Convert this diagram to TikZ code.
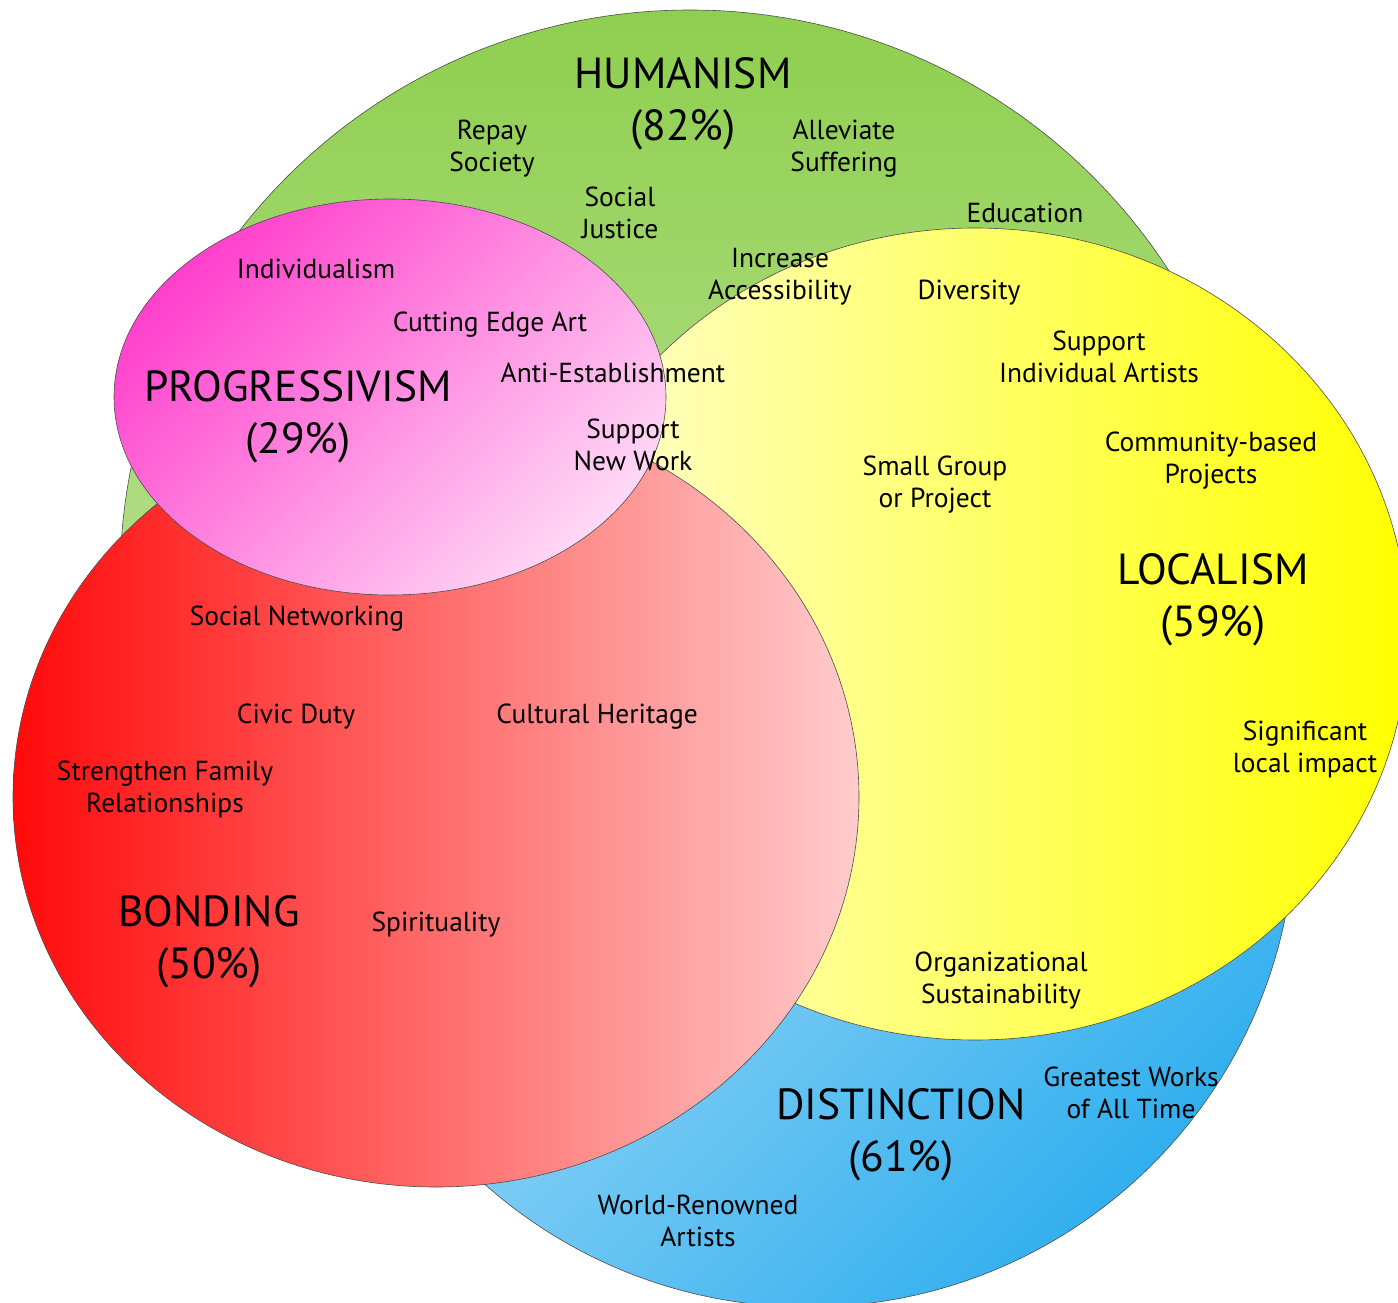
\documentclass[tikz,border=0pt]{standalone}
\usepackage{fontspec}
\setmainfont{PT Sans}
\definecolor{greenA}{HTML}{8FCF4F}
\definecolor{greenB}{HTML}{D2ECBD}
\definecolor{blueA}{HTML}{CDECFC}
\definecolor{blueB}{HTML}{32AFEE}
\definecolor{yelA}{HTML}{FFFFD4}
\definecolor{yelB}{HTML}{FFFFA8}
\definecolor{yelC}{HTML}{FFFF00}
\definecolor{redA}{HTML}{FF0A0A}
\definecolor{redB}{HTML}{FF9090}
\definecolor{redC}{HTML}{FFCCCC}
\definecolor{pinkA}{HTML}{FF40CC}
\definecolor{pinkB}{HTML}{FFD8F6}
\begin{document}
\begin{tikzpicture}[x=1pt,y=-1pt,
  venn/.style={draw=black!70, line width=0.6pt},
  lbl/.style={font=\fontsize{27.5}{32}\selectfont, align=center, inner sep=0pt},
  ttl/.style={font=\fontsize{43.5}{52}\selectfont, align=center, inner sep=0pt}]
\useasboundingbox (0,0) rectangle (1398,1303);
% sets
\shadedraw[venn, top color=greenA, bottom color=greenB] (690,580) circle [radius=570pt];
\shadedraw[venn, top color=blueA, bottom color=blueB, shading angle=45] (808,820) circle [radius=487pt];
\shadedraw[venn, left color=yelA, middle color=yelB, right color=yelC] (975,634) ellipse [x radius=433pt, y radius=406pt];
\shadedraw[venn, left color=redA, middle color=redB, right color=redC] (436,797) ellipse [x radius=423pt, y radius=390pt];
\shadedraw[venn, top color=pinkA, bottom color=pinkB, shading angle=45] (390,397) ellipse [x radius=276pt, y radius=198pt];
% titles
\node[ttl] (hum) at (683,104) {HUMANISM\\(82\%)};
\node[ttl] (prog) at (298,417) {PROGRESSIVISM\\(29\%)};
\node[ttl] (loc) at (1213,600) {LOCALISM\\(59\%)};
\node[ttl] (bond) at (209,942) {BONDING\\(50\%)};
\node[ttl] (dist) at (901,1135) {DISTINCTION\\(61\%)};
% labels
\node[lbl] (repay) at (492,149) {Repay\\Society};
\node[lbl] (allev) at (844,149) {Alleviate\\Suffering};
\node[lbl] (sjust) at (620,213) {Social\\Justice};
\node[lbl] (educ) at (1025,213) {Education};
\node[lbl] (access) at (780,277) {Increase\\Accessibility};
\node[lbl] (divers) at (969,293) {Diversity};
\node[lbl] (indiv) at (316,269) {Individualism};
\node[lbl] (cutting) at (490,325) {Cutting Edge Art};
\node[lbl] (anti) at (613,373) {Anti-Establishment};
\node[lbl] (newwork) at (633,445) {Support\\New Work};
\node[lbl] (artists) at (1099,357) {Support\\Individual Artists};
\node[lbl] (small) at (935,485) {Small Group\\or Project};
\node[lbl] (commun) at (1211,461) {Community-based\\Projects};
\node[lbl] (signif) at (1305,749) {Significant\\local impact};
\node[lbl] (network) at (297,619) {Social Networking};
\node[lbl] (civic) at (296,717) {Civic Duty};
\node[lbl] (heritage) at (597,717) {Cultural Heritage};
\node[lbl] (family) at (165,789) {Strengthen Family\\Relationships};
\node[lbl] (spirit) at (436,925) {Spirituality};
\node[lbl] (orgsus) at (1001,981) {Organizational\\Sustainability};
\node[lbl] (greatest) at (1131,1093) {Greatest Works\\of All Time};
\node[lbl] (world) at (698,1221) {World-Renowned\\Artists};
\end{tikzpicture}
\end{document}
